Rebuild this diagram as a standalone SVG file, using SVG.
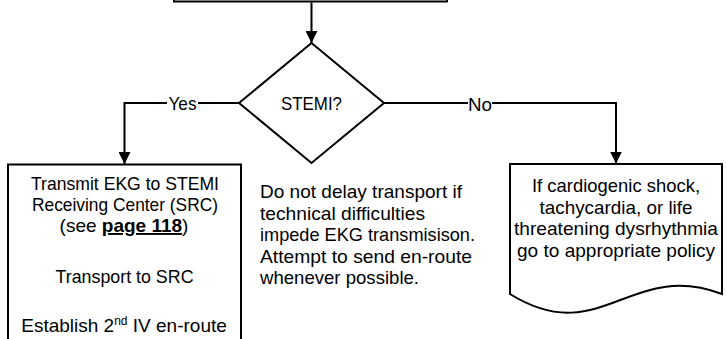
<svg xmlns="http://www.w3.org/2000/svg" width="727" height="339" viewBox="0 0 727 339">
<style>
  .shape { fill: #ffffff; stroke: #000000; stroke-width: 2; }
  .conn { fill: none; stroke: #000000; stroke-width: 2; }
  .t { font-family: "Liberation Sans", Arial, sans-serif; font-size: 19px; fill: #000000; }
  .c { text-anchor: middle; }
  .lbl { font-family: "Liberation Sans", Arial, sans-serif; font-size: 19px; fill: #000000; text-anchor: middle; }
  .bg { fill: #ffffff; stroke: none; }
</style>
<defs>
  <marker id="arrow" viewBox="0 0 12 12" refX="12" refY="6" markerWidth="12" markerHeight="12" markerUnits="userSpaceOnUse" orient="auto">
    <path d="M0,0 L12,6 L0,12 Z" fill="#000000"/>
  </marker>
</defs>
<rect width="727" height="339" fill="#ffffff"/>

<g id="node-top">
  <rect class="shape" x="174" y="-30" width="273" height="31.5"/>
</g>

<g id="node-stemi">
  <polygon class="shape" points="311.5,43 384,103 311.5,163 239,103"/>
  <text class="t c" x="311.5" y="110" textLength="61" lengthAdjust="spacingAndGlyphs">STEMI?</text>
</g>

<g id="node-yes">
  <rect class="shape" x="8" y="164.5" width="233" height="200"/>
  <text class="t c" x="125" y="190" textLength="188" lengthAdjust="spacingAndGlyphs">Transmit EKG to STEMI</text>
  <text class="t c" x="125" y="211" textLength="186" lengthAdjust="spacingAndGlyphs">Receiving Center (SRC)</text>
  <text class="t c" x="124" y="232" font-size="18">(see <tspan font-weight="bold" text-decoration="underline">page 118</tspan>)</text>
  <text class="t c" x="124.5" y="283" textLength="138" lengthAdjust="spacingAndGlyphs">Transport to SRC</text>
  <text class="t c" x="124" y="332" font-size="18.4">Establish 2<tspan font-size="12" dy="-7">nd</tspan><tspan dy="7"> IV en-route</tspan></text>
</g>

<g id="note">
  <text class="t" x="260" y="198" textLength="202" lengthAdjust="spacingAndGlyphs">Do not delay transport if</text>
  <text class="t" x="260" y="219.5" textLength="165" lengthAdjust="spacingAndGlyphs">technical difficulties</text>
  <text class="t" x="260" y="241" textLength="215" lengthAdjust="spacingAndGlyphs">impede EKG transmisison.</text>
  <text class="t" x="260" y="262.5" textLength="212" lengthAdjust="spacingAndGlyphs">Attempt to send en-route</text>
  <text class="t" x="260" y="284" textLength="159" lengthAdjust="spacingAndGlyphs">whenever possible.</text>
</g>

<g id="node-no">
  <path class="shape" d="M510,164 H722 V294 C630,259 600,350 510,294 Z"/>
  <text class="t c" x="616" y="192" textLength="168" lengthAdjust="spacingAndGlyphs">If cardiogenic shock,</text>
  <text class="t c" x="616" y="213.5" textLength="153" lengthAdjust="spacingAndGlyphs">tachycardia, or life</text>
  <text class="t c" x="616" y="235" textLength="204" lengthAdjust="spacingAndGlyphs">threatening dysrhythmia</text>
  <text class="t c" x="616" y="256.5" textLength="198" lengthAdjust="spacingAndGlyphs">go to appropriate policy</text>
</g>

<g id="connectors">
  <path class="conn" d="M311.5,2.5 V43" marker-end="url(#arrow)"/>
  <path class="conn" d="M239,103 H124.5 V164" marker-end="url(#arrow)"/>
  <path class="conn" d="M384,103 H616 V163.5" marker-end="url(#arrow)"/>
  <rect class="bg" x="167" y="95" width="31" height="18"/>
  <text class="lbl" x="182.5" y="110" textLength="28" lengthAdjust="spacingAndGlyphs">Yes</text>
  <rect class="bg" x="468" y="95" width="24" height="18"/>
  <text class="lbl" x="480" y="111" textLength="24" lengthAdjust="spacingAndGlyphs">No</text>
</g>
</svg>
